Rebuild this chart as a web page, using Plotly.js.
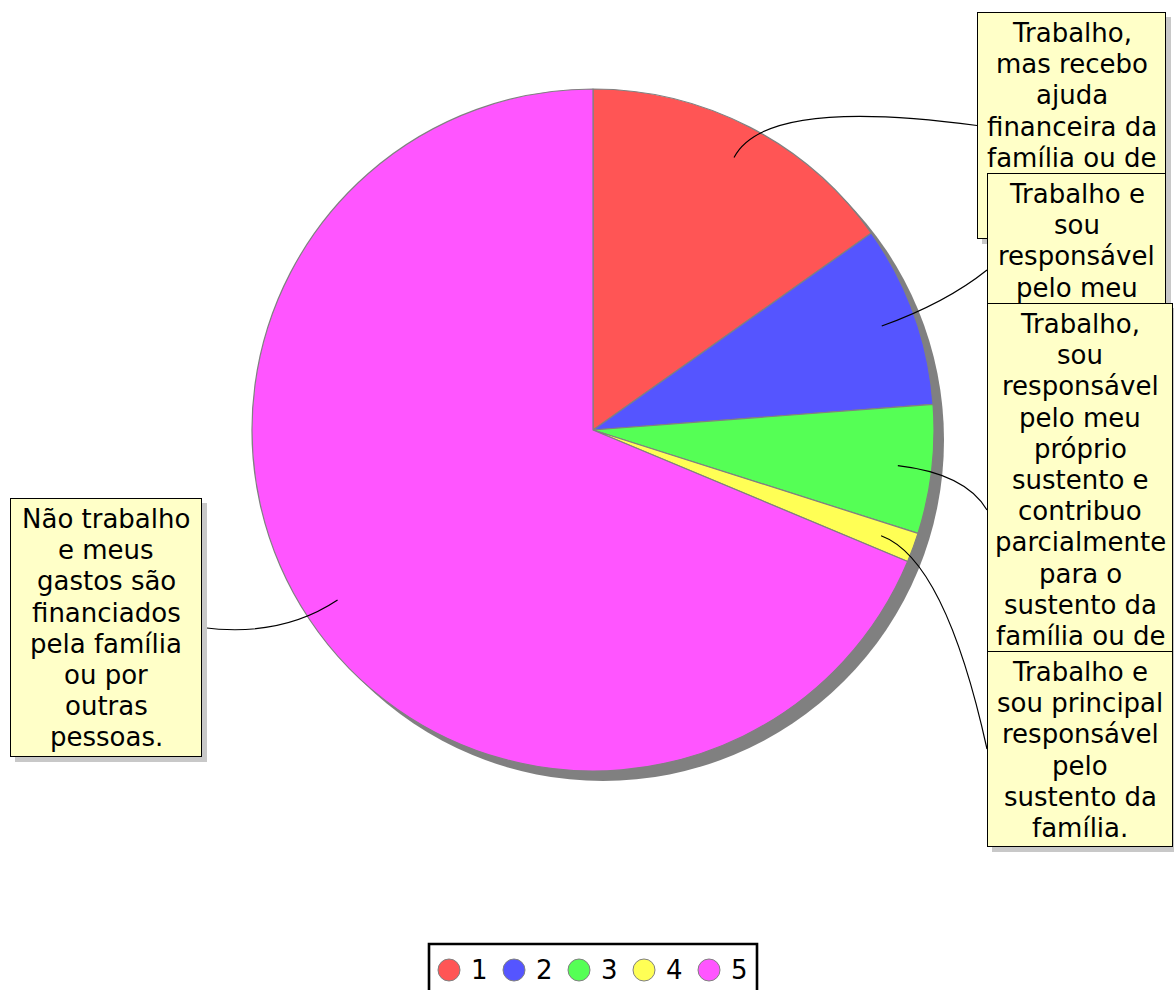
<!DOCTYPE html>
<html><head><meta charset="utf-8">
<script src="https://cdn.plot.ly/plotly-3.0.1.min.js"></script>
<style>html,body{margin:0;padding:0;background:#fff}#chart{width:1174px;height:990px}</style>
</head><body><div id="chart"></div>
<script>
// ---- data ----
const categories = ['1', '2', '3', '4', '5'];
const values = [15.2, 8.6, 6.1, 1.4, 68.7];
const colors = ['#ff5555', '#5555ff', '#55ff55', '#ffff55', '#ff55ff'];
const labelLines = [
  ['Trabalho,', 'mas recebo', 'ajuda', 'financeira da', 'família ou de', 'outras', 'pessoas.'],
  ['Trabalho e', 'sou', 'responsável', 'pelo meu', 'próprio', 'sustento.'],
  ['Trabalho,', 'sou', 'responsável', 'pelo meu', 'próprio', 'sustento e', 'contribuo', 'parcialmente', 'para o', 'sustento da', 'família ou de', 'outras', 'pessoas.'],
  ['Trabalho e', 'sou principal', 'responsável', 'pelo', 'sustento da', 'família.'],
  ['Não trabalho', 'e meus', 'gastos são', 'financiados', 'pela família', 'ou por', 'outras', 'pessoas.']
];

// ---- layout geometry (pixels) ----
const W = 1174, H = 990;
const CX = 593, CY = 430, R = 341, SHADOW = 10;
const boxes = [ // left, top, width, height, side the connector attaches to, bottom of visible area
  {l: 977, t: 12,  w: 189, h: 227, side: 'left', vis: 173},
  {l: 987, t: 173, w: 179, h: 194, side: 'left', vis: 303},
  {l: 987, t: 303, w: 186, h: 414, side: 'left', vis: 651},
  {l: 987, t: 651, w: 186, h: 196, side: 'left', vis: 847},
  {l: 10,  t: 498, w: 192, h: 259, side: 'right', vis: 757}
];
const FONT = 'DejaVu Sans, Verdana, sans-serif';
const FS = 26, LINE = 31.2, FIRST = 21;

const px = x => x / W;
const py = y => 1 - y / H;

const pieDomain = {x: [px(CX - R), px(CX + R)], y: [py(CY + R), py(CY - R)]};
const shadowDomain = {x: [px(CX - R + SHADOW), px(CX + R + SHADOW)], y: [py(CY + R + SHADOW), py(CY - R + SHADOW)]};

const traces = [
  {type: 'pie', values: [1], labels: ['shadow'], domain: shadowDomain, sort: false,
   marker: {colors: ['#808080'], line: {width: 0}}, textinfo: 'none', hoverinfo: 'skip', showlegend: false},
  {type: 'pie', values: values, labels: categories, domain: pieDomain, sort: false,
   direction: 'clockwise', rotation: 0,
   marker: {colors: colors, line: {color: '#808080', width: 1.2}},
   textinfo: 'none', hoverinfo: 'skip', showlegend: false}
];

// connectors computed from slice mid-angles
const total = values.reduce((a, b) => a + b, 0);
const shapes = [];
let cum = 0;
values.forEach((v, i) => {
  const mid = (cum + v / 2) / total * 2 * Math.PI;
  cum += v;
  const p = r => [CX + r * Math.sin(mid), CY - r * Math.cos(mid)];
  const a = p(0.9 * R), c = p(1.1 * R);
  const b = boxes[i];
  const e = [b.side === 'left' ? b.l : b.l + b.w, b.t + b.h / 2];
  shapes.push({type: 'path', xref: 'paper', yref: 'paper', layer: 'above',
    path: `M${px(a[0])},${py(a[1])} Q${px(c[0])},${py(c[1])} ${px(e[0])},${py(e[1])}`,
    line: {color: '#000', width: 1.2}});
});

// legend (custom, circle symbols)
const LEG = {l: 429, r: 757, t: 944, x0: 449, step: 65, cy: 970, rad: 11};
shapes.push({type: 'rect', xref: 'paper', yref: 'paper', x0: px(LEG.l), x1: px(LEG.r), y0: py(LEG.t), y1: py(H + 20),
  line: {color: '#000', width: 2.6}, fillcolor: '#fff', layer: 'above'});
const annotations = [];
categories.forEach((c, i) => {
  const x = LEG.x0 + i * LEG.step;
  shapes.push({type: 'circle', xref: 'paper', yref: 'paper', layer: 'above',
    x0: px(x - LEG.rad), x1: px(x + LEG.rad), y0: py(LEG.cy + LEG.rad), y1: py(LEG.cy - LEG.rad),
    fillcolor: colors[i], line: {color: '#808080', width: 1}});
  annotations.push({xref: 'paper', yref: 'paper', x: px(x + 30), y: py(LEG.cy), text: c, showarrow: false,
    xanchor: 'center', yanchor: 'middle', font: {family: FONT, size: FS, color: '#000'}});
});

// label boxes (lines hidden behind the next box are not drawn)
boxes.forEach((b, i) => {
  annotations.push({xref: 'paper', yref: 'paper', x: px(b.l + 5), y: py(b.t + 5), xanchor: 'left', yanchor: 'top',
    text: ' ', showarrow: false, width: b.w, height: b.h, bgcolor: '#c8c8c8', borderwidth: 0, borderpad: 0});
  annotations.push({xref: 'paper', yref: 'paper', x: px(b.l), y: py(b.t), xanchor: 'left', yanchor: 'top',
    text: ' ', showarrow: false, width: b.w - 2, height: b.h - 2, bgcolor: '#ffffc8', bordercolor: '#000', borderwidth: 1, borderpad: 0});
  labelLines[i].forEach((ln, j) => {
    const y = b.t + FIRST + j * LINE;
    if (y > b.vis - 10) return;
    annotations.push({xref: 'paper', yref: 'paper', x: px(b.l + b.w / 2), y: py(y), xanchor: 'center', yanchor: 'middle',
      text: ln, showarrow: false, font: {family: FONT, size: FS, color: '#000'}});
  });
});

const layout = {
  width: W, height: H, margin: {l: 0, r: 0, t: 0, b: 0},
  paper_bgcolor: '#fff', plot_bgcolor: '#fff', showlegend: false,
  shapes: shapes, annotations: annotations
};
Plotly.newPlot('chart', traces, layout, {displayModeBar: false, staticPlot: true});
</script></body></html>
